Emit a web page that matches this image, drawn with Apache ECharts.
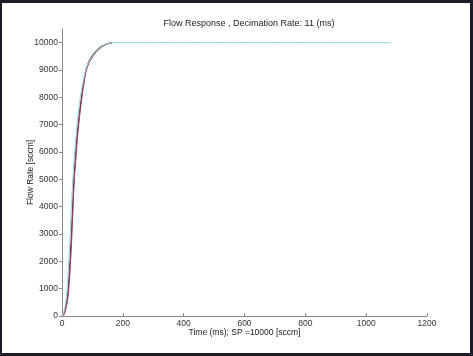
<!DOCTYPE html>
<html>
<head>
<meta charset="utf-8">
<script src="https://cdn.jsdelivr.net/npm/echarts@6/dist/echarts.min.js"></script>
<style>
html,body{margin:0;padding:0;background:#fff;}
#c{position:absolute;left:0;top:0;width:473px;height:356px;}
#frame{position:absolute;left:0;top:0;width:473px;height:356px;box-sizing:border-box;border-style:solid;border-color:#1c1c28;border-width:3px 3px 3px 2px;pointer-events:none;}
</style>
</head>
<body>
<div id="c"></div>
<div id="frame"></div>
<script>
const timeMs = [0,5,10,15,20,25,30,35,40,45,50,55,60,70,80,90,100,110,120,130,140,150,165];
const cyanTail = [[1080,10000]];
const cyanVals  = [0,100,350,750,1550,2550,3750,4900,5750,6450,7100,7550,8000,8600,9070,9350,9500,9640,9760,9840,9910,9960,10000];
const redVals   = [0,30,150,400,700,1400,2350,3600,4900,5650,6400,7000,7500,8350,8980,9290,9470,9620,9740,9830,9900,9955,10000];
const greyVals  = [0,60,250,550,1000,1850,2900,4100,5200,6000,6700,7250,7700,8480,9040,9340,9510,9650,9760,9845,9910,9955,10000];
const darkVals  = [0,50,200,500,900,1700,2700,3950,5100,5900,6600,7150,7650,8480,9060,9360,9540,9680,9790,9865,9925,9965,10000];
const yTicks = [0,1000,2000,3000,4000,5000,6000,7000,8000,9000,10000];
const xTicks = [0,200,400,600,800,1000,1200];

const pair = v => timeMs.map((t,i)=>[t,v[i]]);
const font = 'Liberation Sans, Arial, sans-serif';
const chart = echarts.init(document.getElementById('c'));
const mk = (name, data, color, w) => ({name, type:'line', data, showSymbol:false, smooth:0.3, lineStyle:{color, width:w||1}, itemStyle:{color}, animation:false});
chart.setOption({
  animation:false,
  title:{text:'Flow Response , Decimation Rate: 11 (ms)', left:244, textAlign:'center', top:14,
    textStyle:{fontSize:9, fontWeight:'normal', color:'#222', fontFamily:font}},
  grid:{left:62, right:46, top:29, bottom:40, containLabel:false},
  xAxis:{type:'value', min:0, max:1200, interval:200,
    name:'Time (ms); SP =10000 [sccm]', nameLocation:'middle', nameGap:12, nameMoveOverlap:false,
    nameTextStyle:{fontSize:8.5, color:'#222', fontFamily:font},
    axisLine:{lineStyle:{color:'#8a8a8a', width:1}},
    axisTick:{inside:true, length:3, lineStyle:{color:'#8a8a8a'}},
    axisLabel:{fontSize:8.5, color:'#333', margin:3, fontFamily:font, formatter: v => String(v)},
    splitLine:{show:false}},
  yAxis:{type:'value', min:0, max:10500,
    name:'Flow Rate [sccm]', nameLocation:'middle', nameGap:27, nameMoveOverlap:false,
    nameTextStyle:{fontSize:8.5, color:'#222', fontFamily:font},
    axisLine:{show:true, lineStyle:{color:'#8a8a8a', width:1}},
    axisTick:{show:true, inside:false, length:3, customValues:yTicks, lineStyle:{color:'#8a8a8a'}},
    axisLabel:{fontSize:8.5, color:'#333', margin:4, customValues:yTicks, fontFamily:font, formatter: v => String(v)},
    splitLine:{show:false}},
  series:[
    mk('grey', pair(greyVals), '#8c8c8c'),
    mk('dark', pair(darkVals), '#2c4a3a'),
    mk('red', pair(redVals), '#b8305f'),
    mk('cyan', pair(cyanVals).concat(cyanTail), '#8fd6e0')
  ]
});
</script>
</body>
</html>
